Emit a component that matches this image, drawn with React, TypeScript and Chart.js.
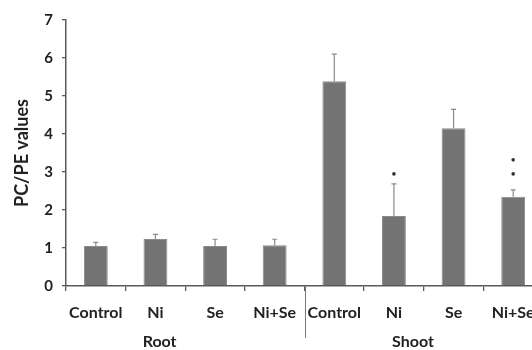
import React, { useEffect, useRef } from "react";
import { Chart, registerables } from "chart.js";

Chart.register(...registerables);

const categories = ["Control", "Ni", "Se", "Ni+Se", "Control", "Ni", "Se", "Ni+Se"];
const values = [1.05, 1.24, 1.05, 1.07, 5.39, 1.84, 4.15, 2.35];
const errors = [0.1, 0.12, 0.18, 0.16, 0.71, 0.85, 0.5, 0.18];
const starLevels: number[][] = [[], [], [], [], [], [2.95], [], [2.95, 3.32]];
const groupLabels = ["Root", "Shoot"];
const yTicks = [0, 1, 2, 3, 4, 5, 6, 7];

const FONT = "Lato, 'Open Sans', sans-serif";
const AXIS = "#5a5a5a";

const extras = {
  id: "extras",
  afterDatasetsDraw(chart: any) {
    const ctx = chart.ctx;
    const x = chart.scales.x;
    const y = chart.scales.y;
    const meta = chart.getDatasetMeta(0);
    ctx.save();
    // error bars
    ctx.strokeStyle = "#8a8a8a";
    ctx.lineWidth = 1.2;
    meta.data.forEach((bar: any, i: number) => {
      const top = y.getPixelForValue(values[i] + errors[i]);
      const base = y.getPixelForValue(values[i]);
      ctx.beginPath();
      ctx.moveTo(bar.x, base);
      ctx.lineTo(bar.x, top);
      ctx.moveTo(bar.x - 2.5, top);
      ctx.lineTo(bar.x + 2.5, top);
      ctx.stroke();
    });
    // significance dots
    ctx.fillStyle = "#333";
    meta.data.forEach((bar: any, i: number) => {
      starLevels[i].forEach((lv) => {
        ctx.beginPath();
        ctx.arc(bar.x, y.getPixelForValue(lv), 1.8, 0, Math.PI * 2);
        ctx.fill();
      });
    });
    // divider between groups
    const dx = (x.getPixelForValue(3) + x.getPixelForValue(4)) / 2;
    ctx.strokeStyle = "#777";
    ctx.lineWidth = 1;
    ctx.beginPath();
    ctx.moveTo(Math.round(dx) + 0.5, y.bottom);
    ctx.lineTo(Math.round(dx) + 0.5, y.bottom + 52);
    ctx.stroke();
    // group labels
    ctx.fillStyle = "#222";
    ctx.font = `bold 16px ${FONT}`;
    ctx.textAlign = "center";
    ctx.textBaseline = "middle";
    const pos = [1.07, 5.32];
    groupLabels.forEach((g, k) => {
      ctx.fillText(g, x.getPixelForValue(0) + pos[k] * (x.getPixelForValue(1) - x.getPixelForValue(0)), y.bottom + 56);
    });
    ctx.restore();
  },
};

export default function App() {
  const ref = useRef<HTMLCanvasElement>(null);
  useEffect(() => {
    if (!ref.current) return;
    const chart = new Chart(ref.current, {
      type: "bar",
      data: {
        labels: categories,
        datasets: [
          {
            data: values,
            backgroundColor: "#737373",
            borderColor: "#8a8a8a",
            borderWidth: 1,
            categoryPercentage: 1,
            barPercentage: 0.4,
          },
        ],
      },
      options: {
        responsive: false,
        animation: false,
        layout: { padding: { top: 20, right: 17, left: 0, bottom: 0 } },
        plugins: { legend: { display: false }, tooltip: { enabled: false } },
        scales: {
          x: {
            afterFit: (s: any) => {
              s.height = 64;
            },
            grid: {
              offset: true,
              drawOnChartArea: false,
              tickLength: 5,
              color: AXIS,
              lineWidth: 1.3,
            },
            border: { color: AXIS, width: 1.5 },
            ticks: {
              color: "#222",
              font: { family: FONT, size: 16, weight: "bold" },
              padding: 12,
              maxRotation: 0,
              autoSkip: false,
            },
          },
          y: {
            min: 0,
            max: 7,
            afterFit: (s: any) => {
              s.width = 66;
            },
            afterBuildTicks: (s: any) => {
              s.ticks = yTicks.map((v) => ({ value: v }));
            },
            grid: {
              drawOnChartArea: false,
              tickLength: 4,
              color: AXIS,
              lineWidth: 1.3,
            },
            border: { color: AXIS, width: 1.5 },
            ticks: {
              color: "#222",
              font: { family: FONT, size: 15, weight: "bold" },
              padding: 9,
            },
            title: {
              display: true,
              text: "PC/PE values",
              color: "#222",
              font: { family: FONT, size: 18, weight: "bold" },
              padding: { top: 11, bottom: 0 },
            },
          },
        },
      },
      plugins: [extras],
    });
    return () => chart.destroy();
  }, []);
  return (
    <div style={{ position: "absolute", left: 0, top: 0, width: 532, height: 350, overflow: "hidden", background: "#fff" }}>
      <canvas ref={ref} width={560} height={350} />
    </div>
  );
}
